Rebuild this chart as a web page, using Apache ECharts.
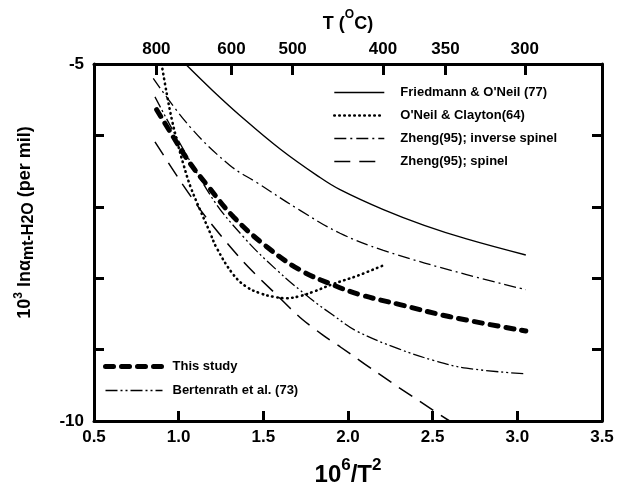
<!DOCTYPE html>
<html><head><meta charset="utf-8">
<script src="https://cdn.jsdelivr.net/npm/echarts@6/dist/echarts.min.js"></script>
<style>html,body{margin:0;padding:0;background:#fff}#c{width:619px;height:497px}</style>
</head><body><div id="c"></div>
<script>
// ---- data ----
const xTicks = [0.5, 1.0, 1.5, 2.0, 2.5, 3.0, 3.5];
const yLabels = [-10, -5];
const tempLabels = [800, 600, 500, 400, 350, 300];

const friedX = [1.04, 1.2, 1.362, 1.599, 1.835, 1.953, 2.209, 2.45, 2.70, 3.05];
const friedY = [-5.0, -5.37, -5.72, -6.19, -6.59, -6.76, -7.04, -7.26, -7.45, -7.675];

const oneilX = [0.899, 0.93, 0.96, 0.995, 1.03, 1.07, 1.126, 1.185, 1.225, 1.323, 1.40, 1.48, 1.56, 1.638, 1.717, 1.795, 1.913, 2.051, 2.209];
const oneilY = [-5.0, -5.42, -5.78, -6.12, -6.42, -6.72, -7.04, -7.36, -7.58, -7.95, -8.12, -8.21, -8.26, -8.28, -8.25, -8.19, -8.08, -7.97, -7.82];

const invX = [0.85, 1.067, 1.303, 1.461, 1.717, 1.953, 2.209, 2.70, 3.05];
const invY = [-5.2, -5.88, -6.42, -6.66, -7.05, -7.37, -7.61, -7.95, -8.16];

const spX = [0.86, 1.027, 1.166, 1.382, 1.579, 1.717, 1.854, 1.953, 2.25, 2.60];
const spY = [-6.09, -6.70, -7.16, -7.77, -8.235, -8.55, -8.80, -8.96, -9.45, -10.0];

const studyX = [0.87, 0.968, 1.067, 1.166, 1.323, 1.52, 1.717, 1.913, 2.071, 2.307, 2.603, 3.05];
const studyY = [-5.64, -6.02, -6.39, -6.69, -7.14, -7.56, -7.885, -8.095, -8.23, -8.37, -8.54, -8.74];

const bertX = [0.86, 1.185, 1.382, 1.579, 1.776, 1.913, 2.051, 2.3, 2.504, 2.70, 3.05];
const bertY = [-5.46, -6.83, -7.42, -7.885, -8.28, -8.52, -8.74, -8.99, -9.15, -9.26, -9.34];

const names = ["Friedmann & O'Neil (77)", "O'Neil & Clayton(64)", "Zheng(95); inverse spinel", "Zheng(95); spinel", "This study", "Bertenrath et al. (73)"];

// ---- chart ----
const zip = (xs, ys) => xs.map((x, i) => [x, ys[i]]);
const tempPos = tempLabels.map(t => 1e6 / Math.pow(t + 273.15, 2));
const F = 'Liberation Sans, Arial, sans-serif';
const axisLineStyle = { color: '#000', width: 3 };
const tickStyle = { color: '#000', width: 3 };

const styles = [
  { width: 1.4, type: 'solid', cap: 'butt' },
  { width: 2.6, type: [0.5, 4.5], cap: 'round' },
  { width: 1.3, type: [12, 4, 2, 4], cap: 'butt' },
  { width: 1.5, type: [16, 9], cap: 'butt' },
  { width: 5, type: [8, 8], cap: 'round' },
  { width: 1.3, type: [12, 3, 2, 3, 2, 3], cap: 'butt' }
];

function mk(i, xs, ys, smooth) {
  return {
    name: names[i], type: 'line', data: zip(xs, ys), symbol: 'none', smooth: smooth,
    xAxisIndex: 0, yAxisIndex: 0,
    lineStyle: { color: '#000', width: styles[i].width, type: styles[i].type, cap: styles[i].cap },
    emphasis: { disabled: true }, silent: true
  };
}
const legendItem = i => ({
  name: names[i], itemStyle: { opacity: 0 },
  lineStyle: { color: '#000', width: styles[i].width, type: styles[i].type, cap: styles[i].cap }
});

const chart = echarts.init(document.getElementById('c'), null, { renderer: 'canvas' });
chart.setOption({
  animation: false,
  backgroundColor: '#fff',
  grid: { left: 94, right: 17, top: 64, bottom: 76 },
  legend: [
    {
      data: [0, 1, 2, 3].map(legendItem), orient: 'vertical', left: 328, top: 81,
      itemWidth: 50, itemHeight: 14, itemGap: 10,
      itemStyle: { opacity: 0 },
      textStyle: { fontFamily: F, fontWeight: 'bold', fontSize: 13, color: '#000', padding: [0, 0, 0, 11] },
      selectedMode: false
    },
    {
      data: [4, 5].map(legendItem), orient: 'vertical', left: 98, top: 355,
      itemWidth: 57, itemHeight: 14, itemGap: 11,
      itemStyle: { opacity: 0 },
      textStyle: { fontFamily: F, fontWeight: 'bold', fontSize: 13, color: '#000', padding: [0, 0, 0, 5] },
      selectedMode: false
    }
  ],
  xAxis: [
    {
      type: 'value', position: 'bottom', min: 0.5, max: 3.5, interval: 0.5,
      axisLine: { lineStyle: axisLineStyle },
      axisTick: { inside: true, length: 10, lineStyle: tickStyle },
      axisLabel: { fontFamily: F, fontWeight: 'bold', fontSize: 17, color: '#000', margin: 8,
        formatter: v => v.toFixed(1) },
      splitLine: { show: false },
      name: '{a|10}{s|6}{a|/T}{s|2}', nameLocation: 'middle', nameGap: 36,
      nameTextStyle: { rich: {
        a: { fontFamily: F, fontWeight: 'bold', fontSize: 24, color: '#000', verticalAlign: 'bottom', lineHeight: 30 },
        s: { fontFamily: F, fontWeight: 'bold', fontSize: 17, color: '#000', verticalAlign: 'top', lineHeight: 30, padding: [0, 0, 11, 0] }
      } }
    },
    {
      type: 'value', position: 'top', min: 0.5, max: 3.5,
      axisLine: { lineStyle: axisLineStyle },
      axisTick: { inside: true, length: 11, lineStyle: tickStyle, customValues: tempPos },
      axisLabel: { fontFamily: F, fontWeight: 'bold', fontSize: 17, color: '#000', margin: 6,
        customValues: tempPos,
        formatter: v => { let i = tempPos.findIndex(p => Math.abs(p - v) < 1e-6); return i >= 0 ? String(tempLabels[i]) : ''; } },
      splitLine: { show: false },
      name: '{a|T (}{s|O}{a|C)}', nameLocation: 'middle', nameGap: 31,
      nameTextStyle: { rich: {
        a: { fontFamily: F, fontWeight: 'bold', fontSize: 18, color: '#000', verticalAlign: 'bottom', lineHeight: 24 },
        s: { fontFamily: F, fontWeight: 'bold', fontSize: 12, color: '#000', verticalAlign: 'top', lineHeight: 24, padding: [0, 0, 8, 0] }
      } }
    }
  ],
  yAxis: [
    {
      type: 'value', position: 'left', min: -10, max: -5, interval: 1,
      axisLine: { lineStyle: axisLineStyle },
      axisTick: { inside: true, length: 10, lineStyle: tickStyle },
      axisLabel: { fontFamily: F, fontWeight: 'bold', fontSize: 17, color: '#000', margin: 10,
        customValues: yLabels, formatter: v => String(v) },
      splitLine: { show: false },
      name: '{a|10}{s|3}{a| ln\u03b1}{b|mt-H2O}{a| (per mil)}', nameLocation: 'middle', nameGap: 57, nameRotate: 90,
      nameTextStyle: { padding: [0, 0, 0, 40], rich: {
        a: { fontFamily: F, fontWeight: 'bold', fontSize: 18, color: '#000', lineHeight: 24 },
        s: { fontFamily: F, fontWeight: 'bold', fontSize: 12, color: '#000', lineHeight: 24, verticalAlign: 'top', padding: [0, 0, 9, 0] },
        b: { fontFamily: F, fontWeight: 'bold', fontSize: 16, color: '#000', lineHeight: 24, verticalAlign: 'bottom', padding: [7, 0, 0, 0] }
      } }
    },
    {
      type: 'value', position: 'right', min: -10, max: -5, interval: 1,
      axisLine: { lineStyle: axisLineStyle },
      axisTick: { inside: true, length: 10, lineStyle: tickStyle },
      axisLabel: { show: false },
      splitLine: { show: false }
    }
  ],
  series: [
    mk(0, friedX, friedY, 0.4),
    mk(1, oneilX, oneilY, 0.4),
    mk(2, invX, invY, 0.4),
    mk(3, spX, spY, 0.3),
    mk(4, studyX, studyY, 0.4),
    mk(5, bertX, bertY, 0.4)
  ]
});
</script></body></html>
